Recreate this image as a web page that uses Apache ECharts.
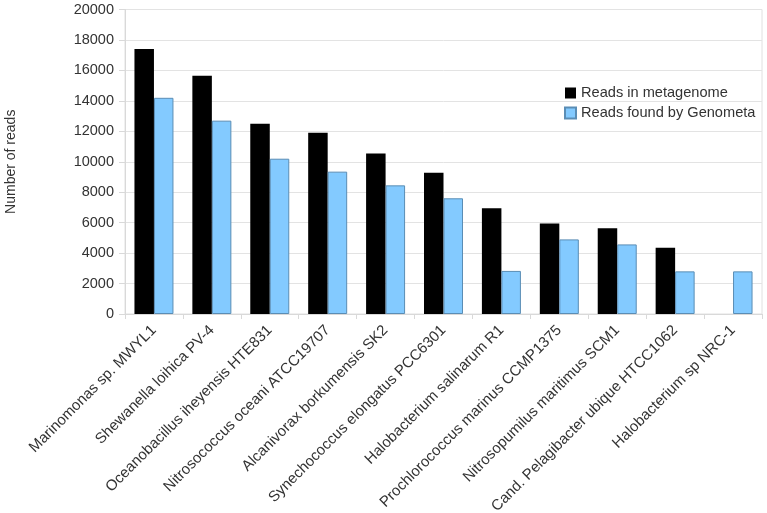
<!DOCTYPE html>
<html>
<head>
<meta charset="utf-8">
<script src="https://cdn.jsdelivr.net/npm/echarts@6/dist/echarts.min.js"></script>
<style>html,body{margin:0;padding:0;background:#fff;}#c{width:767px;height:513px;}</style>
</head>
<body>
<div id="c"></div>
<script>
const categories = [
  "Marinomonas sp. MWYL1",
  "Shewanella loihica PV-4",
  "Oceanobacillus iheyensis HTE831",
  "Nitrosococcus oceani ATCC19707",
  "Alcanivorax borkumensis SK2",
  "Synechococcus elongatus PCC6301",
  "Halobacterium salinarum R1",
  "Prochlorococcus marinus CCMP1375",
  "Nitrosopumilus maritimus SCM1",
  "Cand. Pelagibacter ubique HTCC1062",
  "Halobacterium sp NRC-1"
];
const readsInMetagenome = [17400, 15650, 12500, 11900, 10550, 9280, 6940, 5950, 5630, 4350, 0];
const readsFoundByGenometa = [14200, 12700, 10200, 9350, 8450, 7600, 2830, 4900, 4570, 2800, 2800];
const seriesNames = ["Reads in metagenome", "Reads found by Genometa"];
const yTicks = { min: 0, max: 20000, interval: 2000 };
const yAxisName = "Number of reads";

const font = "'Liberation Sans', Arial, sans-serif";
const chart = echarts.init(document.getElementById('c'), null, { renderer: 'canvas' });
chart.setOption({
  animation: false,
  backgroundColor: '#ffffff',
  textStyle: { fontFamily: font },
  grid: { left: 125, right: 5, top: 9.5, bottom: 199, show: true, borderColor: '#e0e0e0', borderWidth: 1,
          containLabel: false, outerBoundsMode: 'none' },
  legend: {
    left: 559, top: 80.5, orient: 'vertical', itemWidth: 11, itemHeight: 11, itemGap: 5, padding: 5,
    textStyle: { fontFamily: font, fontSize: 14.6, color: '#333', padding: [0, 0, 0, 0] },
    data: seriesNames.map((n) => ({ name: n, icon: 'rect' }))
  },
  xAxis: {
    type: 'category', data: categories,
    axisLine: { lineStyle: { color: '#d9d9d9' } },
    axisTick: { show: true, length: 5, lineStyle: { color: '#d9d9d9' } },
    axisLabel: { rotate: 45, fontSize: 15, color: '#333', fontFamily: font, margin: 14, interval: 0 },
    splitLine: { show: false }
  },
  yAxis: {
    type: 'value', min: yTicks.min, max: yTicks.max, interval: yTicks.interval,
    name: yAxisName, nameLocation: 'middle', nameGap: 107, nameRotate: 90,
    nameTextStyle: { fontSize: 14, color: '#333', fontFamily: font },
    axisLine: { show: true, lineStyle: { color: '#d9d9d9' } },
    axisTick: { show: true, length: 6, lineStyle: { color: '#d9d9d9' } },
    axisLabel: { fontSize: 14.5, color: '#333', fontFamily: font, margin: 11, formatter: (v) => String(v) },
    splitLine: { lineStyle: { color: '#e3e3e3' } }
  },
  series: [
    { name: seriesNames[0], type: 'bar', data: readsInMetagenome, barWidth: 19.5, barGap: '0%',
      itemStyle: { color: '#000000', borderWidth: 0 } },
    { name: seriesNames[1], type: 'bar', data: readsFoundByGenometa, barWidth: 19.5, barGap: '0%',
      itemStyle: { color: '#83caff', borderColor: '#5a8db5', borderWidth: 1 } }
  ]
});
</script>
</body>
</html>
